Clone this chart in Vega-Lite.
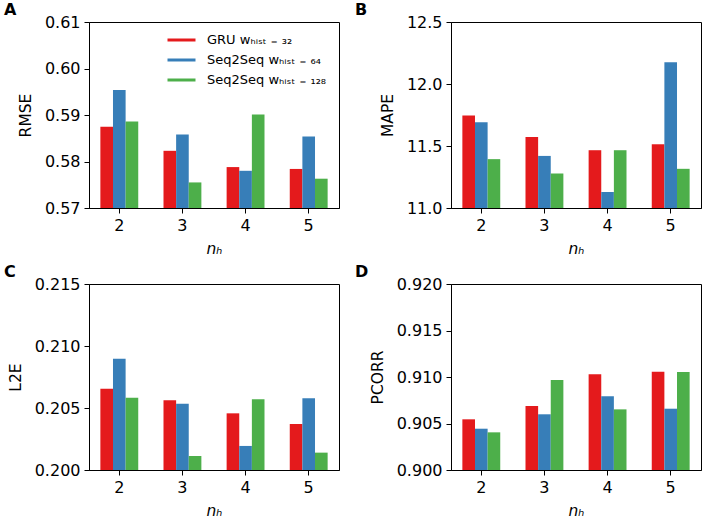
{
  "$schema": "https://vega.github.io/schema/vega-lite/v6.json",
  "padding": {"left": 3, "top": 1, "right": 4, "bottom": 3},
  "background": "white",
  "config": {
    "font": "DejaVu Sans",
    "view": {"stroke": "black", "strokeWidth": 1},
    "axis": {"labelFont": "DejaVu Sans", "labelFontSize": 16, "labelColor": "black", "titleFont": "DejaVu Sans", "titleFontSize": 15.5, "titleFontWeight": "normal", "titleColor": "black", "tickColor": "black", "domainColor": "black", "tickSize": 5, "labelPadding": 4, "grid": false, "titlePadding": 11},
    "axisX": {"labelAngle": 0, "titlePadding": 8},
    "legend": {"labelColor": "black", "labelFont": "DejaVu Sans"},
    "title": {"font": "DejaVu Sans", "fontSize": 16, "fontWeight": "bold", "color": "black", "anchor": "start", "frame": "group", "offset": -4}
  },
  "data": {"values": [
    {"m": "RMSE", "n": 2, "s": "GRU", "v": 0.5875}, {"m": "RMSE", "n": 2, "s": "S64", "v": 0.5954}, {"m": "RMSE", "n": 2, "s": "S128", "v": 0.5886},
    {"m": "RMSE", "n": 3, "s": "GRU", "v": 0.5823}, {"m": "RMSE", "n": 3, "s": "S64", "v": 0.5858}, {"m": "RMSE", "n": 3, "s": "S128", "v": 0.5755},
    {"m": "RMSE", "n": 4, "s": "GRU", "v": 0.5788}, {"m": "RMSE", "n": 4, "s": "S64", "v": 0.5780}, {"m": "RMSE", "n": 4, "s": "S128", "v": 0.5901},
    {"m": "RMSE", "n": 5, "s": "GRU", "v": 0.5784}, {"m": "RMSE", "n": 5, "s": "S64", "v": 0.5854}, {"m": "RMSE", "n": 5, "s": "S128", "v": 0.5763},
    {"m": "MAPE", "n": 2, "s": "GRU", "v": 11.745}, {"m": "MAPE", "n": 2, "s": "S64", "v": 11.691}, {"m": "MAPE", "n": 2, "s": "S128", "v": 11.394},
    {"m": "MAPE", "n": 3, "s": "GRU", "v": 11.573}, {"m": "MAPE", "n": 3, "s": "S64", "v": 11.42}, {"m": "MAPE", "n": 3, "s": "S128", "v": 11.279},
    {"m": "MAPE", "n": 4, "s": "GRU", "v": 11.466}, {"m": "MAPE", "n": 4, "s": "S64", "v": 11.129}, {"m": "MAPE", "n": 4, "s": "S128", "v": 11.466},
    {"m": "MAPE", "n": 5, "s": "GRU", "v": 11.514}, {"m": "MAPE", "n": 5, "s": "S64", "v": 12.176}, {"m": "MAPE", "n": 5, "s": "S128", "v": 11.316},
    {"m": "L2E", "n": 2, "s": "GRU", "v": 0.20656}, {"m": "L2E", "n": 2, "s": "S64", "v": 0.20898}, {"m": "L2E", "n": 2, "s": "S128", "v": 0.20583},
    {"m": "L2E", "n": 3, "s": "GRU", "v": 0.20562}, {"m": "L2E", "n": 3, "s": "S64", "v": 0.20535}, {"m": "L2E", "n": 3, "s": "S128", "v": 0.20113},
    {"m": "L2E", "n": 4, "s": "GRU", "v": 0.20457}, {"m": "L2E", "n": 4, "s": "S64", "v": 0.20194}, {"m": "L2E", "n": 4, "s": "S128", "v": 0.2057},
    {"m": "L2E", "n": 5, "s": "GRU", "v": 0.20371}, {"m": "L2E", "n": 5, "s": "S64", "v": 0.20578}, {"m": "L2E", "n": 5, "s": "S128", "v": 0.2014},
    {"m": "PCORR", "n": 2, "s": "GRU", "v": 0.90545}, {"m": "PCORR", "n": 2, "s": "S64", "v": 0.90444}, {"m": "PCORR", "n": 2, "s": "S128", "v": 0.90405},
    {"m": "PCORR", "n": 3, "s": "GRU", "v": 0.90688}, {"m": "PCORR", "n": 3, "s": "S64", "v": 0.90599}, {"m": "PCORR", "n": 3, "s": "S128", "v": 0.90968},
    {"m": "PCORR", "n": 4, "s": "GRU", "v": 0.91029}, {"m": "PCORR", "n": 4, "s": "S64", "v": 0.90792}, {"m": "PCORR", "n": 4, "s": "S128", "v": 0.90652},
    {"m": "PCORR", "n": 5, "s": "GRU", "v": 0.91057}, {"m": "PCORR", "n": 5, "s": "S64", "v": 0.90659}, {"m": "PCORR", "n": 5, "s": "S128", "v": 0.91054}
  ]},
  "columns": 2,
  "bounds": "flush",
  "spacing": {"row": 76, "column": 112},
  "resolve": {"legend": {"fill": "independent", "stroke": "independent"}},
  "concat": [
    {
      "width": 250, "height": 186,
      "title": {"text": "A", "dx": -85},
      "transform": [{"filter": "datum.m === 'RMSE'"}],
      "mark": {"type": "bar", "strokeWidth": 0},
      "encoding": {
        "x": {"field": "n", "type": "ordinal", "scale": {"paddingInner": 0.4, "paddingOuter": 0.18}, "axis": {"title": "nₕ", "titleFontStyle": "italic"}},
        "xOffset": {"field": "s", "type": "nominal", "scale": {"domain": ["GRU", "S64", "S128"], "paddingInner": 0, "paddingOuter": 0}},
        "y": {"field": "v", "type": "quantitative", "scale": {"domain": [0.57, 0.61], "zero": false, "nice": false, "clamp": true}, "axis": {"title": "RMSE", "values": [0.57, 0.58, 0.59, 0.6, 0.61], "format": ".2f"}},
        "fill": {"field": "s", "type": "nominal", "scale": {"domain": ["GRU", "S64", "S128"], "range": ["#e41a1c", "#377eb8", "#4daf4a"]},
          "legend": {"title": null, "orient": "none", "legendX": 77, "legendY": 8, "symbolType": "stroke", "symbolSize": 784, "symbolStrokeWidth": 3, "clipHeight": 20, "rowPadding": 0, "labelFontSize": 13, "labelOffset": 10, "labelExpr": "datum.value === 'GRU' ? 'GRU wₕᵢₛₜ ₌ ₃₂' : datum.value === 'S64' ? 'Seq2Seq wₕᵢₛₜ ₌ ₆₄' : 'Seq2Seq wₕᵢₛₜ ₌ ₁₂₈'"}},
        "stroke": {"field": "s", "type": "nominal", "scale": {"domain": ["GRU", "S64", "S128"], "range": ["#e41a1c", "#377eb8", "#4daf4a"]},
          "legend": {"title": null, "orient": "none", "legendX": 77, "legendY": 8, "symbolType": "stroke", "symbolSize": 784, "symbolStrokeWidth": 3, "clipHeight": 20, "rowPadding": 0, "labelFontSize": 13, "labelOffset": 10, "labelExpr": "datum.value === 'GRU' ? 'GRU wₕᵢₛₜ ₌ ₃₂' : datum.value === 'S64' ? 'Seq2Seq wₕᵢₛₜ ₌ ₆₄' : 'Seq2Seq wₕᵢₛₜ ₌ ₁₂₈'"}}
      }
    },
    {
      "width": 250, "height": 186,
      "title": {"text": "B", "dx": -96},
      "transform": [{"filter": "datum.m === 'MAPE'"}],
      "mark": {"type": "bar", "strokeWidth": 0},
      "encoding": {
        "x": {"field": "n", "type": "ordinal", "scale": {"paddingInner": 0.4, "paddingOuter": 0.18}, "axis": {"title": "nₕ", "titleFontStyle": "italic"}},
        "xOffset": {"field": "s", "type": "nominal", "scale": {"domain": ["GRU", "S64", "S128"], "paddingInner": 0, "paddingOuter": 0}},
        "y": {"field": "v", "type": "quantitative", "scale": {"domain": [11.0, 12.5], "zero": false, "nice": false, "clamp": true}, "axis": {"title": "MAPE", "values": [11.0, 11.5, 12.0, 12.5], "format": ".1f"}},
        "fill": {"field": "s", "type": "nominal", "scale": {"domain": ["GRU", "S64", "S128"], "range": ["#e41a1c", "#377eb8", "#4daf4a"]}, "legend": null},
        "stroke": {"field": "s", "type": "nominal", "scale": {"domain": ["GRU", "S64", "S128"], "range": ["#e41a1c", "#377eb8", "#4daf4a"]}, "legend": null}
      }
    },
    {
      "width": 250, "height": 186,
      "title": {"text": "C", "dx": -85},
      "transform": [{"filter": "datum.m === 'L2E'"}],
      "mark": {"type": "bar", "strokeWidth": 0},
      "encoding": {
        "x": {"field": "n", "type": "ordinal", "scale": {"paddingInner": 0.4, "paddingOuter": 0.18}, "axis": {"title": "nₕ", "titleFontStyle": "italic"}},
        "xOffset": {"field": "s", "type": "nominal", "scale": {"domain": ["GRU", "S64", "S128"], "paddingInner": 0, "paddingOuter": 0}},
        "y": {"field": "v", "type": "quantitative", "scale": {"domain": [0.2, 0.215], "zero": false, "nice": false, "clamp": true}, "axis": {"title": "L2E", "values": [0.2, 0.205, 0.21, 0.215], "format": ".3f"}},
        "fill": {"field": "s", "type": "nominal", "scale": {"domain": ["GRU", "S64", "S128"], "range": ["#e41a1c", "#377eb8", "#4daf4a"]}, "legend": null},
        "stroke": {"field": "s", "type": "nominal", "scale": {"domain": ["GRU", "S64", "S128"], "range": ["#e41a1c", "#377eb8", "#4daf4a"]}, "legend": null}
      }
    },
    {
      "width": 250, "height": 186,
      "title": {"text": "D", "dx": -96},
      "transform": [{"filter": "datum.m === 'PCORR'"}],
      "mark": {"type": "bar", "strokeWidth": 0},
      "encoding": {
        "x": {"field": "n", "type": "ordinal", "scale": {"paddingInner": 0.4, "paddingOuter": 0.18}, "axis": {"title": "nₕ", "titleFontStyle": "italic"}},
        "xOffset": {"field": "s", "type": "nominal", "scale": {"domain": ["GRU", "S64", "S128"], "paddingInner": 0, "paddingOuter": 0}},
        "y": {"field": "v", "type": "quantitative", "scale": {"domain": [0.9, 0.92], "zero": false, "nice": false, "clamp": true}, "axis": {"title": "PCORR", "values": [0.9, 0.905, 0.91, 0.915, 0.92], "format": ".3f"}},
        "fill": {"field": "s", "type": "nominal", "scale": {"domain": ["GRU", "S64", "S128"], "range": ["#e41a1c", "#377eb8", "#4daf4a"]}, "legend": null},
        "stroke": {"field": "s", "type": "nominal", "scale": {"domain": ["GRU", "S64", "S128"], "range": ["#e41a1c", "#377eb8", "#4daf4a"]}, "legend": null}
      }
    }
  ]
}
